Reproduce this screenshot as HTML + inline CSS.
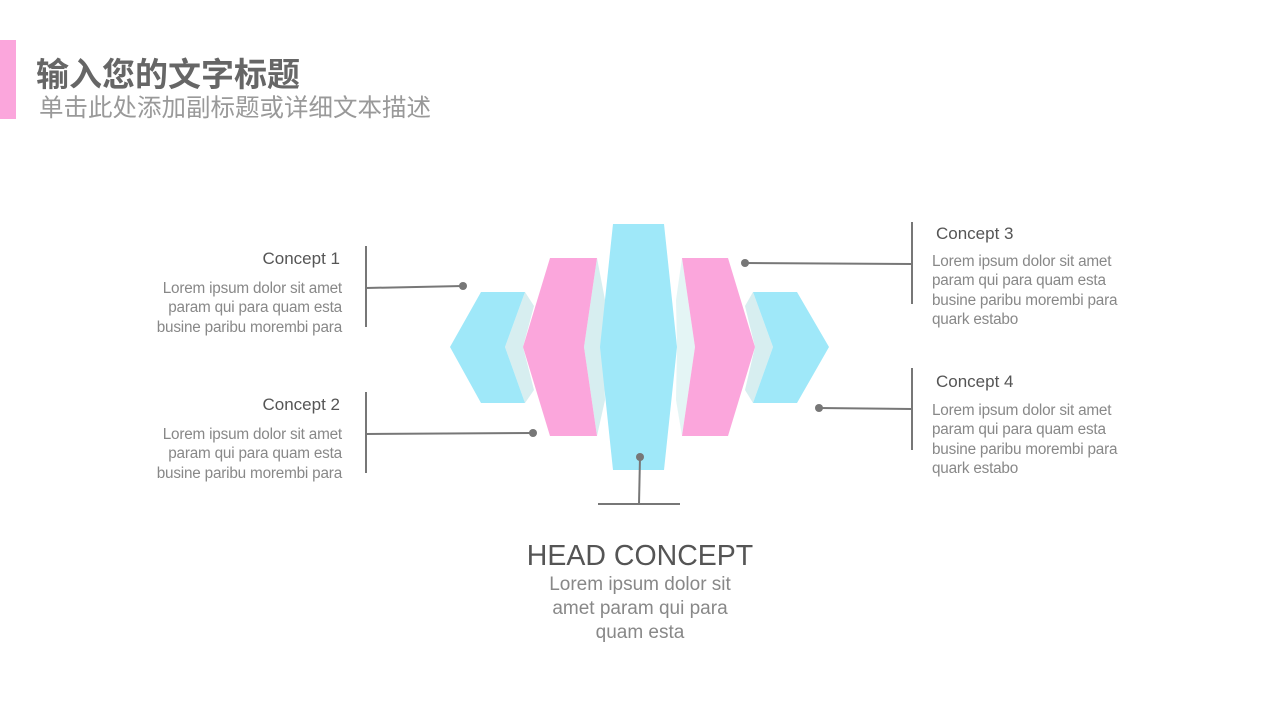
<!DOCTYPE html>
<html><head><meta charset="utf-8"><style>
body{margin:0;width:1280px;height:720px;background:#fff;position:relative;overflow:hidden;font-family:"Liberation Sans","Noto Sans CJK SC",sans-serif}
.a{position:absolute;white-space:nowrap}
.h{font-size:17px;color:#555}
.t{font-size:15.3px;color:#888;line-height:19.3px;letter-spacing:-0.2px}
.r{text-align:right}
</style></head><body>
<div class="a" style="left:0;top:40px;width:16px;height:79px;background:#fba6dc"></div>
<div class="a" style="left:36px;top:48px;font-size:33px;font-weight:bold;color:#666">输入您的文字标题</div>
<div class="a" style="left:39px;top:89px;font-size:24.5px;color:#999">单击此处添加副标题或详细文本描述</div>
<svg class="a" style="left:0;top:0" width="1280" height="720">
<g stroke="none">
<polygon points="525,292 534,306 523,347 534,390 525,403 505,347" fill="#d7eef0"/>
<polygon points="597,258 605,300 603,347 605,400 597,436 584,347" fill="#d7eef0"/>
<polygon points="682,258 676,300 677,347 676,400 682,436 695,347" fill="#e4f5f5"/>
<polygon points="753,292 745,306 755,347 745,390 753,403 773,347" fill="#d7eef0"/>
<polygon points="481,292 525,292 505,347 525,403 481,403 450,347" fill="#9fe8f9"/>
<polygon points="550,258 597,258 584,347 597,436 550,436 523,347" fill="#fba6dc"/>
<polygon points="613,224 664,224 677,347 664,470 613,470 600,347" fill="#9fe8f9"/>
<polygon points="682,258 728,258 755,347 728,436 682,436 695,347" fill="#fba6dc"/>
<polygon points="753,292 797,292 829,347 797,403 753,403 773,347" fill="#9fe8f9"/>
</g>
<g stroke="#777" stroke-width="2" fill="none">
<line x1="366" y1="246" x2="366" y2="327"/><line x1="366" y1="288" x2="463" y2="286"/>
<line x1="366" y1="392" x2="366" y2="473"/><line x1="366" y1="434" x2="533" y2="433"/>
<line x1="912" y1="222" x2="912" y2="304"/><line x1="745" y1="263" x2="912" y2="264"/>
<line x1="912" y1="368" x2="912" y2="450"/><line x1="819" y1="408" x2="912" y2="409"/>
<line x1="640" y1="457" x2="639" y2="504"/><line x1="598" y1="504" x2="680" y2="504"/>
</g>
<g fill="#777"><circle cx="463" cy="286" r="4"/><circle cx="533" cy="433" r="4"/><circle cx="745" cy="263" r="4"/><circle cx="819" cy="408" r="4"/><circle cx="640" cy="457" r="4"/></g>
</svg>
<div class="a h r" style="right:940px;top:249px">Concept 1</div>
<div class="a t r" style="right:938px;top:279px">Lorem ipsum dolor sit amet<br>param qui para quam esta<br>busine paribu morembi para</div>
<div class="a h r" style="right:940px;top:395px">Concept 2</div>
<div class="a t r" style="right:938px;top:425px">Lorem ipsum dolor sit amet<br>param qui para quam esta<br>busine paribu morembi para</div>
<div class="a h" style="left:936px;top:224px">Concept 3</div>
<div class="a t" style="left:932px;top:252px">Lorem ipsum dolor sit amet<br>param qui para quam esta<br>busine paribu morembi para<br>quark estabo</div>
<div class="a h" style="left:936px;top:372px">Concept 4</div>
<div class="a t" style="left:932px;top:401px">Lorem ipsum dolor sit amet<br>param qui para quam esta<br>busine paribu morembi para<br>quark estabo</div>
<div class="a" style="left:440px;width:400px;text-align:center;top:540px;font-size:28.5px;color:#555">HEAD CONCEPT</div>
<div class="a" style="left:440px;width:400px;text-align:center;top:573px;font-size:19px;color:#888;line-height:24px">Lorem ipsum dolor sit<br>amet param qui para<br>quam esta</div>
</body></html>
